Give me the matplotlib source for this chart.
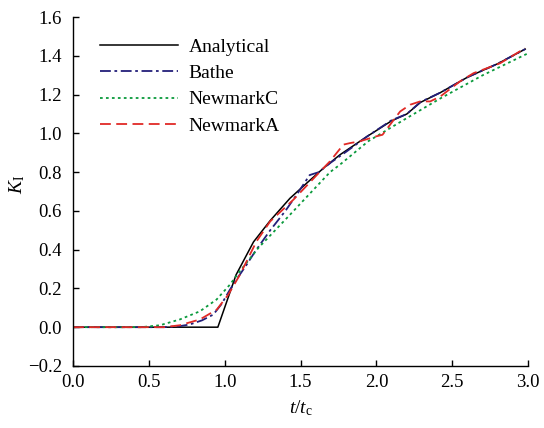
import matplotlib
matplotlib.use("Agg")
import matplotlib.pyplot as plt
from matplotlib.ticker import FuncFormatter

plt.rcParams['font.family'] = ['Liberation Serif', 'DejaVu Serif']
plt.rcParams['mathtext.fontset'] = 'custom'
plt.rcParams['mathtext.rm'] = 'Liberation Serif'
plt.rcParams['mathtext.it'] = 'Liberation Serif:italic'
plt.rcParams['font.size'] = 13.5

# Analytical
t_ana = [0.0, 0.955, 1.075, 1.19, 1.3, 1.43, 1.55, 1.65, 1.76, 1.94, 2.1, 2.2, 2.29, 2.42, 2.6, 2.8, 2.98]
k_ana = [0.0, 0.0, 0.27, 0.44, 0.55, 0.665, 0.75, 0.82, 0.89, 0.985, 1.065, 1.10, 1.16, 1.21, 1.29, 1.36, 1.435]

# Bathe
t_bathe = [0.0, 0.6, 0.7, 0.77, 0.85, 0.925, 0.98, 1.035, 1.09, 1.145, 1.2, 1.3, 1.4, 1.48, 1.56, 1.62, 1.7,
           1.8, 1.94, 2.1, 2.2, 2.29, 2.42, 2.6, 2.8, 2.98]
k_bathe = [0.0, 0.0, 0.005, 0.014, 0.035, 0.065, 0.12, 0.194, 0.26, 0.323, 0.39, 0.50, 0.60, 0.69, 0.785, 0.80, 0.85,
           0.905, 0.985, 1.068, 1.10, 1.162, 1.21, 1.29, 1.36, 1.435]

# NewmarkC
t_nmc = [0.0, 0.45, 0.574, 0.705, 0.837, 0.947, 1.035, 1.1, 1.222, 1.43, 1.694, 1.76, 1.947, 2.2, 2.42, 2.7, 2.99]
k_nmc = [0.0, 0.0, 0.01, 0.04, 0.082, 0.143, 0.22, 0.289, 0.409, 0.58, 0.80, 0.839, 0.96, 1.079, 1.18, 1.30, 1.41]

# NewmarkA
t_nma = [0.0, 0.6, 0.705, 0.837, 0.947, 1.024, 1.1, 1.21, 1.3, 1.453, 1.63, 1.694, 1.782, 1.826, 1.89, 2.0, 2.04,
         2.09, 2.156, 2.222, 2.288, 2.354, 2.42, 2.55, 2.64, 2.73, 2.815, 2.98]
k_nma = [0.0, 0.0, 0.01, 0.04, 0.09, 0.168, 0.27, 0.443, 0.546, 0.658, 0.804, 0.856, 0.942, 0.95, 0.959, 0.985, 0.993,
         1.045, 1.113, 1.148, 1.165, 1.165, 1.19, 1.268, 1.311, 1.337, 1.362, 1.44]

xticks = [0.0, 0.5, 1.0, 1.5, 2.0, 2.5, 3.0]
yticks = [-0.2, 0.0, 0.2, 0.4, 0.6, 0.8, 1.0, 1.2, 1.4, 1.6]

fig = plt.figure(figsize=(5.44, 4.28), dpi=100)
ax = fig.add_axes([0.134, 0.145, 0.837, 0.815])

ax.plot(t_ana, k_ana, color='black', lw=1.1, label='Analytical')
ax.plot(t_bathe, k_bathe, color='#231f7a', lw=1.3, dashes=(6, 2, 1.5, 2), label='Bathe')
ax.plot(t_nmc, k_nmc, color='#0a9a3c', lw=1.3, dashes=(1.5, 1.8), label='NewmarkC')
ax.plot(t_nma, k_nma, color='#e02a26', lw=1.3, dashes=(6, 3), label='NewmarkA')

ax.set_xlim(0, 3.0)
ax.set_ylim(-0.2, 1.6)
ax.set_xticks(xticks)
ax.set_yticks(yticks)
fmt = FuncFormatter(lambda v, p: ('%.1f' % v).replace('-', '\u2212'))
ax.xaxis.set_major_formatter(fmt)
ax.yaxis.set_major_formatter(fmt)
for s in ['top', 'right']:
    ax.spines[s].set_visible(False)
for s in ['left', 'bottom']:
    ax.spines[s].set_linewidth(1.0)
ax.tick_params(direction='in', length=4.5, width=1.0, labelsize=13.5)
ax.tick_params(axis='y', pad=8)
ax.tick_params(axis='x', pad=6)

ax.set_xlabel(r'$t/t_{\rm c}$', fontsize=14, labelpad=5)
ax.set_ylabel(r'$K_{\rm I}$', fontsize=14)
ax.yaxis.set_label_coords(-0.1, 0.52)

ax.legend(loc='upper left', bbox_to_anchor=(0.06, 0.94), frameon=False,
          handlelength=4.0, handletextpad=0.55, labelspacing=0.45, borderaxespad=0, borderpad=0,
          fontsize=14)

fig.savefig('out.png', dpi=100)
